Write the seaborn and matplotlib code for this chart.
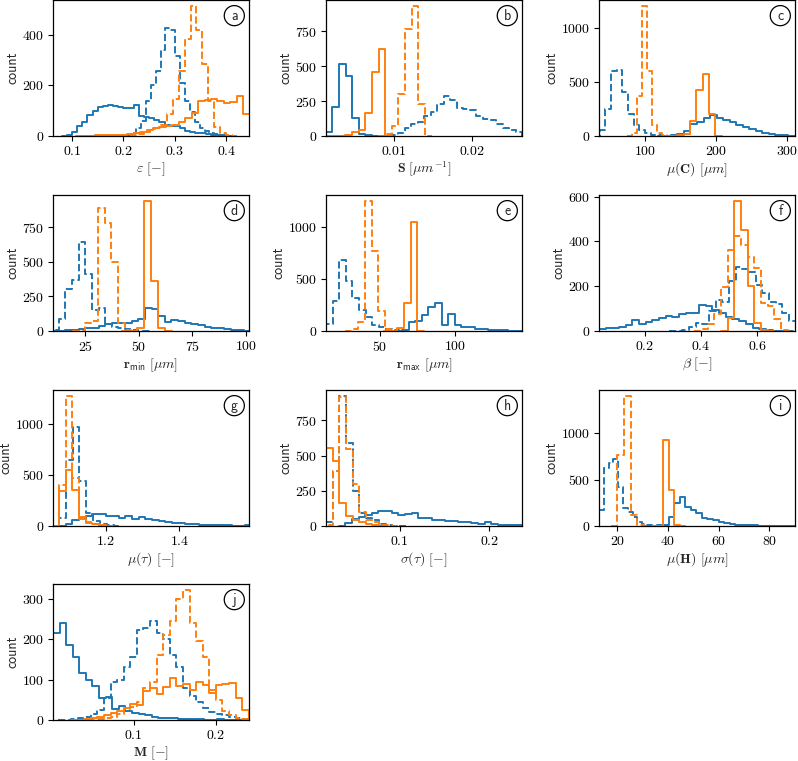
import numpy as np
import matplotlib
matplotlib.use("Agg")
import matplotlib.pyplot as plt
import seaborn as sns

# ---------------- data (bin counts) ----------------
# each series: counts + (first edge, last edge) of equal-width bins
# B1 = blue solid, B2 = blue dashed, O1 = orange solid, O2 = orange dashed

A_B1 = [5, 17, 39, 57, 83, 99, 113, 118, 122, 120, 113, 112, 110, 124, 79, 75, 72, 65, 55, 45, 40, 38, 33, 20, 15, 12, 10, 6, 4, 2, 1]
A_B1_R = (0.09, 0.40)
A_B2 = [10, 30, 60, 140, 200, 255, 340, 425, 420, 315, 210, 140, 95, 55, 30, 18, 12, 8, 4, 2]
A_B2_R = (0.215, 0.405)
A_O1 = [1, 1, 2, 2, 3, 4, 5, 6, 10, 15, 25, 30, 35, 38, 45, 55, 70, 90, 140, 142, 145, 140, 130, 135, 160, 85]
A_O1_R = (0.12, 0.445)
A_O2 = [3, 5, 8, 15, 22, 30, 45, 85, 145, 255, 382, 512, 418, 285, 140, 35, 12, 4]
A_O2_R = (0.205, 0.4102)

B_B1 = [31, 210, 515, 433, 126, 14, 4, 1]
B_B1_R = (0.0013, 0.0081)
B_B2 = [3, 8, 25, 55, 85, 100, 140, 170, 230, 290, 260, 200, 190, 185, 140, 120, 118, 85, 60, 45, 30]
B_B2_R = (0.0089, 0.0264)
B_O1 = [1, 2, 3, 8, 28, 45, 165, 460, 620]
B_O1_R = (0.00129, 0.00894)
B_O2 = [15, 70, 300, 770, 928, 230]
B_O2_R = (0.0089, 0.0140)

C_B1 = [3, 8, 20, 50, 110, 130, 170, 195, 165, 150, 125, 100, 80, 60, 42, 30, 20, 12, 8, 4]
C_B1_R = (127, 311)
C_B2 = [55, 245, 600, 605, 410, 205, 100, 55, 30, 12, 6, 3]
C_B2_R = (36, 132)
C_O1 = [3, 8, 20, 140, 420, 575, 200]
C_O1_R = (136, 199)
C_O2 = [30, 370, 1195, 600, 100, 25, 8]
C_O2_R = (82, 131)

D_B1 = [2, 3, 5, 8, 15, 20, 25, 35, 48, 55, 55, 60, 70, 85, 165, 160, 105, 65, 80, 70, 60, 50, 40, 30, 25, 20, 12, 8, 5, 3]
D_B1_R = (9.4, 102.4)
D_B2 = [5, 90, 300, 365, 640, 410, 155, 165, 50, 30, 20, 15, 8, 3]
D_B2_R = (9.4, 52.8)
D_O1 = [2, 20, 935, 360, 25]
D_O1_R = (45.6, 62.1)
D_O2 = [3, 60, 70, 890, 780, 500, 60, 10]
D_O2_R = (21.6, 46.4)

E_B1 = [2, 5, 90, 95, 150, 230, 265, 55, 165, 60, 40, 35, 22, 15, 12, 8, 6, 4, 3, 2]
E_B1_R = (60.5, 148.5)
E_B2 = [70, 290, 680, 480, 320, 205, 130, 60, 40, 15, 5]
E_B2_R = (14.2, 62.6)
E_O1 = [3, 30, 270, 1040]
E_O1_R = (57.2, 75.2)
E_O2 = [15, 90, 1240, 770, 195, 15]
E_O2_R = (31.4, 57.8)

F_B1 = [8, 12, 15, 20, 28, 48, 33, 40, 50, 60, 65, 62, 75, 80, 82, 115, 110, 95, 80, 62, 52, 45, 30, 15, 8, 4, 2, 1]
F_B1_R = (0.038, 0.7016)
F_B2 = [2, 5, 20, 35, 30, 90, 140, 130, 225, 285, 275, 265, 205, 170, 130, 120, 80, 45]
F_B2_R = (0.31, 0.7366)
F_O1 = [60, 578, 450, 200, 35, 3]
F_O1_R = (0.4948, 0.637)
F_O2 = [10, 30, 75, 195, 360, 425, 385, 330, 280, 125, 110, 55, 5]
F_O2_R = (0.40, 0.7081)

G_B1 = [20, 60, 80, 100, 115, 120, 100, 95, 80, 95, 70, 85, 70, 60, 45, 35, 30, 25, 20, 15, 12, 10, 8, 6, 5, 4, 3, 8]
G_B1_R = (1.092, 1.596)
G_B2 = [80, 640, 965, 435, 130, 45, 15, 5]
G_B2_R = (1.074, 1.222)
G_O1 = [340, 545, 355, 65, 25, 15, 8]
G_O1_R = (1.074, 1.2)
G_O2 = [400, 1265, 470, 90, 40, 20, 8]
G_O2_R = (1.074, 1.2)

H_B1 = [20, 50, 65, 80, 95, 105, 110, 95, 80, 85, 90, 60, 55, 45, 42, 38, 35, 30, 25, 20, 15, 25, 12, 10, 8, 5, 4]
H_B1_R = (0.0393, 0.2391)
H_B2 = [25, 392, 920, 590, 250, 90, 60, 40, 15, 8, 3]
H_B2_R = (0.0178, 0.0992)
H_O1 = [555, 460, 165, 70, 40, 30, 15, 5]
H_O1_R = (0.0178, 0.077)
H_O2 = [5, 390, 915, 545, 300, 100, 40, 25, 10, 5]
H_O2_R = (0.0178, 0.0918)

I_B1 = [5, 10, 15, 100, 245, 310, 210, 175, 145, 85, 75, 60, 45, 30, 18, 14, 10, 8, 6, 5, 4, 3, 3, 2, 2, 1]
I_B1_R = (33.6, 90.8)
I_B2 = [170, 630, 680, 725, 420, 190, 150, 100, 40, 20, 10, 5]
I_B2_R = (12.7, 35.5)
I_O1 = [5, 930, 390, 15]
I_O1_R = (35.8, 44.6)
I_O2 = [770, 1400, 115, 10]
I_O2_R = (20.0, 30.4)

J_B1 = [215, 240, 185, 155, 115, 100, 85, 55, 58, 28, 35, 22, 18, 15, 12, 8, 6, 5, 4, 3, 2, 2, 2, 1, 1, 2, 1, 1, 0, 0]
J_B1_R = (0.002, 0.242)
J_B2 = [1, 2, 4, 7, 15, 25, 55, 95, 100, 130, 155, 222, 228, 245, 215, 200, 160, 130, 80, 60, 45, 30, 20, 15, 12, 8, 5, 3]
J_B2_R = (0.016, 0.24)
J_O1 = [1, 2, 4, 8, 12, 18, 22, 30, 40, 38, 72, 78, 65, 82, 105, 83, 88, 75, 95, 87, 66, 87, 88, 91, 54, 25]
J_O1_R = (0.032, 0.24)
J_O2 = [1, 2, 3, 5, 8, 15, 28, 32, 45, 80, 95, 160, 210, 245, 300, 320, 240, 195, 155, 75, 50, 22, 12, 6, 3]
J_O2_R = (0.040, 0.24)

PANEL_LETTERS = ["a", "b", "c", "d", "e", "f", "g", "h", "i", "j"]
XLABELS = [
    r"$\varepsilon\ [-]$",
    r"$\mathbf{S}\ [\mu m^{-1}]$",
    r"$\mu(\mathbf{C})\ [\mu m]$",
    r"$\mathbf{r}_{\mathsf{min}}\ [\mu m]$",
    r"$\mathbf{r}_{\mathsf{max}}\ [\mu m]$",
    r"$\beta\ [-]$",
    r"$\mu(\tau)\ [-]$",
    r"$\sigma(\tau)\ [-]$",
    r"$\mu(\mathbf{H})\ [\mu m]$",
    r"$\mathbf{M}\ [-]$",
]
XLIMS = [(0.063, 0.444), (0.00136, 0.02638), (35, 311), (9.8, 101.5), (14.2, 144.9),
         (0.038, 0.734), (1.058, 1.588), (0.0178, 0.2364), (12.7, 90.2), (0.002, 0.2403)]
XTICKS = [[0.1, 0.2, 0.3, 0.4], [0.01, 0.02], [100, 200, 300], [25, 50, 75, 100], [50, 100],
          [0.2, 0.4, 0.6], [1.2, 1.4], [0.1, 0.2], [20, 40, 60, 80], [0.1, 0.2]]
YTICKS = [[0, 200, 400], [0, 250, 500, 750], [0, 500, 1000], [0, 250, 500, 750], [0, 500, 1000],
          [0, 200, 400, 600], [0, 500, 1000], [0, 250, 500, 750], [0, 500, 1000], [0, 100, 200, 300]]

SERIES = [
    [(A_B1, A_B1_R), (A_B2, A_B2_R), (A_O1, A_O1_R), (A_O2, A_O2_R)],
    [(B_B1, B_B1_R), (B_B2, B_B2_R), (B_O1, B_O1_R), (B_O2, B_O2_R)],
    [(C_B1, C_B1_R), (C_B2, C_B2_R), (C_O1, C_O1_R), (C_O2, C_O2_R)],
    [(D_B1, D_B1_R), (D_B2, D_B2_R), (D_O1, D_O1_R), (D_O2, D_O2_R)],
    [(E_B1, E_B1_R), (E_B2, E_B2_R), (E_O1, E_O1_R), (E_O2, E_O2_R)],
    [(F_B1, F_B1_R), (F_B2, F_B2_R), (F_O1, F_O1_R), (F_O2, F_O2_R)],
    [(G_B1, G_B1_R), (G_B2, G_B2_R), (G_O1, G_O1_R), (G_O2, G_O2_R)],
    [(H_B1, H_B1_R), (H_B2, H_B2_R), (H_O1, H_O1_R), (H_O2, H_O2_R)],
    [(I_B1, I_B1_R), (I_B2, I_B2_R), (I_O1, I_O1_R), (I_O2, I_O2_R)],
    [(J_B1, J_B1_R), (J_B2, J_B2_R), (J_O1, J_O1_R), (J_O2, J_O2_R)],
]

# ---------------- style ----------------
sns.set_style("ticks")
plt.rcParams["font.family"] = ["cmr10", "DejaVu Serif"]
plt.rcParams["mathtext.fontset"] = "cm"
plt.rcParams["axes.formatter.use_mathtext"] = True
plt.rcParams["axes.unicode_minus"] = False
plt.rcParams["font.size"] = 10
plt.rcParams["axes.edgecolor"] = "black"
plt.rcParams["axes.linewidth"] = 0.9
plt.rcParams["xtick.color"] = "black"
plt.rcParams["ytick.color"] = "black"
plt.rcParams["xtick.major.size"] = 3.5
plt.rcParams["ytick.major.size"] = 3.5
plt.rcParams["xtick.major.pad"] = 3
plt.rcParams["ytick.major.pad"] = 3

BLUE = "#1f77b4"
ORANGE = "#ff7f0e"
STYLES = [(BLUE, "-"), (BLUE, "--"), (ORANGE, "-"), (ORANGE, "--")]

W, H = 798, 761
fig = plt.figure(figsize=(W / 100, H / 100), dpi=100)

col_left = [53, 326, 599]
row_bottom = [136, 331, 526, 720]
ax_w, ax_h = 196, 136


def draw_hist(ax, counts, rng, color, ls):
    n = len(counts)
    e = np.linspace(rng[0], rng[1], n + 1)
    w = e[1] - e[0]
    edges = np.concatenate([[e[0] - w], e, [e[-1] + w]])
    vals = np.concatenate([[0], np.asarray(counts, float), [0]])
    centers = 0.5 * (edges[:-1] + edges[1:])
    sns.histplot(x=list(centers), weights=list(vals), bins=list(edges), element="step", fill=False,
                 color=color, linestyle=ls, linewidth=1.4, ax=ax)


for k in range(10):
    r, c = divmod(k, 3)
    left = col_left[c] / W
    bottom = 1 - row_bottom[r] / H
    ax = fig.add_axes([left, bottom, ax_w / W, ax_h / H])
    for (counts, rng), (color, ls) in zip(SERIES[k], STYLES):
        draw_hist(ax, counts, rng, color, ls)
    ax.set_xlim(*XLIMS[k])
    ax.set_ylim(bottom=0)
    ax.set_xticks(XTICKS[k])
    ax.set_yticks(YTICKS[k])
    ax.tick_params(labelsize=10)
    ax.set_xlabel(XLABELS[k], fontsize=10, labelpad=1.5)
    ax.set_ylabel("count", fontfamily="cmss10", fontsize=10, labelpad=1.5)
    for s in ax.spines.values():
        s.set_visible(True)
    ax.text(0.925, 0.885, PANEL_LETTERS[k], transform=ax.transAxes, ha="center", va="center",
            fontfamily="cmss10", fontsize=10,
            bbox=dict(boxstyle="circle,pad=0.22", fc="white", ec="black", lw=0.9))

fig.savefig("out.png", dpi=100)
